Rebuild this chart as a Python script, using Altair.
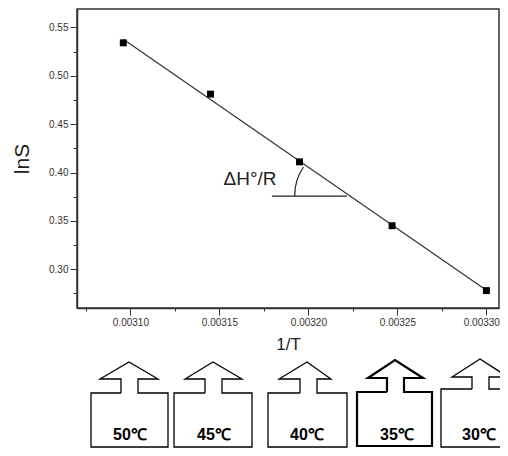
import altair as alt
import pandas as pd

# ---- data ----
inv_T = [0.003096, 0.003145, 0.003195, 0.003247, 0.003300]
lnS = [0.534, 0.481, 0.411, 0.345, 0.278]
temp_labels = ["50℃", "45℃", "40℃", "35℃", "30℃"]

x_ticks = [0.00310, 0.00315, 0.00320, 0.00325, 0.00330]
x_minor = [0.003075, 0.003125, 0.003175, 0.003225, 0.003275]
y_ticks = [0.30, 0.35, 0.40, 0.45, 0.50, 0.55]
y_minor = [0.275, 0.325, 0.375, 0.425, 0.475, 0.525]

# ---- annotation (slope angle) in data units ----
ann_text = "ΔH°/R"
ann_text_pos = (0.0031672, 0.3933)
ann_hline = (0.0031795, 0.0032217, 0.3757)
ann_arc_center = (0.0032217, 0.3757)

# ---- decorative sample boxes with arrows (page pixels) ----
boxes = [
    dict(L=91, R=168, T=393, B=447, ax=129, ay=362, hl=100, hr=158, sl=121, sr=138, hb=379, sw=1.3, tx=130),
    dict(L=174, R=252, T=393, B=447, ax=213, ay=362, hl=185, hr=242, sl=205, sr=222, hb=379, sw=1.3, tx=214),
    dict(L=268, R=347, T=393, B=447, ax=307, ay=362, hl=279, hr=331, sl=300, sr=317, hb=379, sw=1.3, tx=307),
    dict(L=357, R=432, T=392, B=446, ax=395, ay=360, hl=368, hr=423, sl=387, sr=404, hb=378, sw=2.2, tx=397),
    dict(L=441, R=540, T=389, B=447, ax=480, ay=359, hl=452, hr=508, sl=472, sr=489, hb=377, sw=1.3, tx=479),
]

rows = []
for k, b in enumerate(boxes):
    pts = [
        (b["sl"], b["T"]), (b["L"], b["T"]), (b["L"], b["B"]), (b["R"], b["B"]),
        (b["R"], b["T"]), (b["sr"], b["T"]), (b["sr"], b["hb"]), (b["hr"], b["hb"]),
        (b["ax"], b["ay"]), (b["hl"], b["hb"]), (b["sl"], b["hb"]), (b["sl"], b["T"]),
    ]
    for i, (px, py) in enumerate(pts):
        rows.append(dict(box=k, i=i, px=px, py=py, sw=b["sw"]))
shape_df = pd.DataFrame(rows)
label_df = pd.DataFrame({"px": [b["tx"] for b in boxes], "py": [440] * 5, "t": temp_labels})

# plot area: page x 77..499, page y 9..308 (keeps the reference's px-per-unit)
W, H = 422, 299
X0, Y0 = 77, 9
FONT = "Liberation Sans"

x_per_px = 0.000241 / 429
y_per_px = 0.31 / 300
xs = alt.Scale(domain=[0.00307, 0.00307 + W * x_per_px], nice=False, zero=False)
ys = alt.Scale(domain=[0.26, 0.26 + H * y_per_px], nice=False, zero=False)
pxs = alt.Scale(domain=[X0, X0 + W], nice=False, zero=False)
pys = alt.Scale(domain=[Y0, Y0 + H], nice=False, zero=False, reverse=True)

df = pd.DataFrame({"x": inv_T, "y": lnS})

major_x = alt.Axis(values=x_ticks, format=".5f", orient="bottom", tickSize=7, grid=False,
                   labelFontSize=10, labelFont=FONT, labelColor="#333", labelPadding=2,
                   labelFlush=20, labelFlushOffset=13,
                   domainColor="#333", domainWidth=1.5, tickColor="#333", tickWidth=1,
                   title="1/T", titleFontSize=17, titleFont=FONT, titleFontWeight="normal",
                   titleColor="#222", titlePadding=9)
minor_x = alt.Axis(values=x_minor, labels=False, orient="bottom", tickSize=3, grid=False,
                   domain=False, tickColor="#333", tickWidth=1, title=None)
major_y = alt.Axis(values=y_ticks, format=".2f", orient="left", tickSize=7, grid=False,
                   labelFontSize=10, labelFont=FONT, labelColor="#333", labelPadding=2,
                   domainColor="#333", domainWidth=1.5, tickColor="#333", tickWidth=1,
                   title="lnS", titleFontSize=21, titleFont=FONT, titleFontWeight="normal",
                   titleColor="#222", titlePadding=16)
minor_y = alt.Axis(values=y_minor, labels=False, orient="left", tickSize=4, grid=False,
                   domain=False, tickColor="#333", tickWidth=1, title=None)

base = alt.Chart(df)

fit = base.transform_regression("x", "y").mark_line(color="#333", strokeWidth=1.2).encode(
    x=alt.X("x:Q", scale=xs, axis=minor_x),
    y=alt.Y("y:Q", scale=ys, axis=minor_y),
)
points = base.mark_square(size=48, color="black", opacity=1).encode(
    x=alt.X("x:Q", scale=xs, axis=major_x),
    y=alt.Y("y:Q", scale=ys, axis=major_y),
)

hline_df = pd.DataFrame({"x": [ann_hline[0]], "x2": [ann_hline[1]], "y": [ann_hline[2]]})
hline = alt.Chart(hline_df).mark_rule(color="#222", strokeWidth=1.2).encode(
    x=alt.X("x:Q", scale=xs, axis=None), x2="x2:Q",
    y=alt.Y("y:Q", scale=ys, axis=None),
)
arc_df = pd.DataFrame({"x": [ann_arc_center[0]], "y": [ann_arc_center[1]]})
arc = alt.Chart(arc_df).mark_arc(radius=53, radius2=51.8, theta=4.712, theta2=5.30, color="#222").encode(
    x=alt.X("x:Q", scale=xs, axis=None),
    y=alt.Y("y:Q", scale=ys, axis=None),
)
txt_df = pd.DataFrame({"x": [ann_text_pos[0]], "y": [ann_text_pos[1]], "t": [ann_text]})
ann = alt.Chart(txt_df).mark_text(fontSize=19, font=FONT, color="#222").encode(
    x=alt.X("x:Q", scale=xs, axis=None),
    y=alt.Y("y:Q", scale=ys, axis=None),
    text="t:N",
)

shapes = alt.Chart(shape_df).mark_line(color="black", strokeJoin="miter").encode(
    x=alt.X("px:Q", scale=pxs, axis=None),
    y=alt.Y("py:Q", scale=pys, axis=None),
    detail="box:N",
    order="i:Q",
    strokeWidth=alt.StrokeWidth("sw:Q", scale=None, legend=None),
)
labels = alt.Chart(label_df).mark_text(fontSize=16, font=FONT, fontWeight="bold", color="black",
                                       baseline="alphabetic").encode(
    x=alt.X("px:Q", scale=pxs, axis=None),
    y=alt.Y("py:Q", scale=pys, axis=None),
    text="t:N",
)

chart = alt.layer(fit, points, hline, arc, ann, shapes, labels).resolve_scale(
    x="independent", y="independent"
).resolve_axis(x="independent", y="independent").properties(
    width=W, height=H,
    autosize=alt.AutoSizeParams(type="none"),
    padding={"left": X0 - 8, "top": Y0 - 8, "right": 1, "bottom": 140},
    background="white",
).configure_view(stroke="#333", strokeWidth=1.5)

chart.save("out.html", embed_options={"renderer": "svg", "actions": False})
